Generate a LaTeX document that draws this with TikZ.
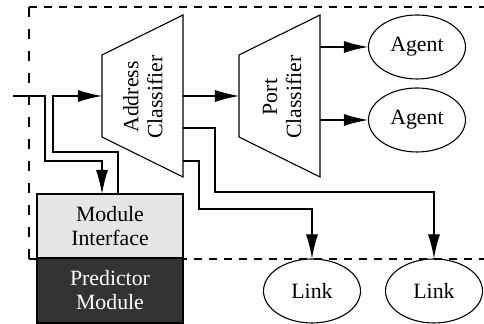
\documentclass[tikz,border=0pt]{standalone}
\usepackage{fontspec}
\setmainfont{Liberation Serif}
\usepackage{tikz}
\usetikzlibrary{arrows.meta}
\usetikzlibrary{positioning}
\usetikzlibrary{shapes}
\tikzset{>={Latex[length=12pt,width=6pt]}}

\begin{document}
\begin{tikzpicture}[
            x=0.5pt, y=-0.5pt, line width=0.55pt,
            font=\fontsize{10.9}{12}\selectfont,
            blob/.style={draw, ellipse, inner sep=0pt, minimum width=48.5pt, minimum height=32pt},
            modbox/.style={draw, inner sep=0pt, minimum width=73pt, minimum height=32pt, align=center},
            hframe/.style={dash pattern=on 4pt off 3.5pt},
            vframe/.style={dash pattern=on 5pt off 6pt}
        ]
            \useasboundingbox (0, 0) rectangle (484, 324);
            % frame
            \draw[hframe] (29, 7) -- (484, 7);
            \draw[vframe] (29, 7) -- (29, 259);
            \draw[hframe] (29, 259) -- (484, 259);
            % classifiers
            \draw[fill=white] (102, 55) -- (183, 15) -- (183, 177) -- (102, 137) -- cycle;
            \node[rotate=90, align=center] (addr) at (143, 97) {Address\\Classifier};
            \draw[fill=white] (239, 55) -- (320, 15) -- (320, 177) -- (239, 137) -- cycle;
            \node[rotate=90, align=center] (port) at (282, 97) {Port\\Classifier};
            % agents and links
            \node[blob] (agentA) at (417, 47) {Agent};
            \node[blob] (agentB) at (417, 120) {Agent};
            \node[blob] (linkA) at (312, 291) {Link};
            \node[blob] (linkB) at (434, 291) {Link};
            % module
            \node[modbox, fill=black!10] (iface) at (110, 226) {Module\\Interface};
            \node[modbox, fill=black!80, text=white, minimum height=32.5pt] (pred) at (110, 290.5) {Predictor\\Module};
            % ports
            \coordinate (in) at (13, 96);
            \coordinate (ifin) at (102, 194);
            \coordinate (ifout) at (118, 194);
            \coordinate (addrin) at (102, 96);
            \coordinate (addrout) at (183, 96);
            \coordinate (portin) at (239, 96);
            \coordinate (portA) at (320, 47);
            \coordinate (portB) at (320, 120);
            \coordinate (addrA) at (183, 161);
            \coordinate (addrB) at (183, 128);
            % paths
            \draw[->] (in) -| (45, 161) -| (ifin);
            \draw[->] (ifout) |- (53, 152) |- (addrin);
            \draw[->] (addrout) -- (portin);
            \draw[->] (portA) -- (agentA.west);
            \draw[->] (portB) -- (agentB.west);
            \draw[->] (addrB) -| (215, 192) -| (linkB.north);
            \draw[->] (addrA) -| (199, 209) -| (linkA.north);
        \end{tikzpicture}
\end{document}
